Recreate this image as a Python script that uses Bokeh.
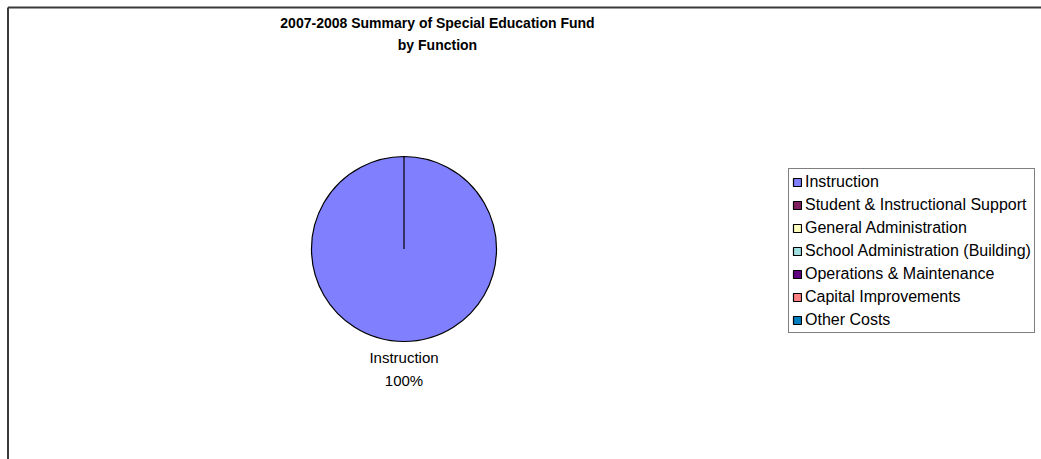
import numpy as np
from bokeh.plotting import figure
from bokeh.models import Range1d, Label, Legend, LegendItem, ColumnDataSource
from bokeh.embed import file_html
from bokeh.resources import INLINE

# Spending by function, percent of the fund
categories = [
    "Instruction",
    "Student & Instructional Support",
    "General Administration",
    "School Administration (Building)",
    "Operations & Maintenance",
    "Capital Improvements",
    "Other Costs",
]
shares = [100, 0, 0, 0, 0, 0, 0]
colors = ["#8080FF", "#802060", "#FFFFC0", "#A0E0E0", "#600080", "#FF8080", "#0080C0"]

title_lines = ["2007-2008 Summary of Special Education Fund", "by Function"]

W, H = 1041, 459
FONT = "Liberation Sans"
PIE_X, PIE_Y, PIE_R = 403.5, H - 248.5, 92.5

# slice angles: start at 12 o'clock, run clockwise
vals = np.array(shares, dtype=float)
frac = vals / vals.sum()
cum = np.concatenate([[0.0], np.cumsum(frac)])
start = np.pi / 2 - 2 * np.pi * cum[:-1]
sweep = np.minimum(2 * np.pi * frac, 2 * np.pi - 1e-6)  # a closed arc of exactly 2*pi renders empty in SVG
end = start - sweep
mid = start - 2 * np.pi * frac / 2
# empty slices get no area at all
radius = np.where(vals > 0, PIE_R, 0.0)

src = ColumnDataSource(dict(cat=categories, share=shares, color=colors,
                            start=start, end=end, r=radius))

p = figure(width=W, height=H, output_backend="svg", toolbar_location=None,
           x_range=Range1d(0, W), y_range=Range1d(0, H),
           min_border=0, outline_line_color=None)
p.axis.visible = False
p.grid.visible = False
p.background_fill_color = "white"
p.border_fill_color = "white"

# chart-area frame: left and top edges (right and bottom lie past the canvas)
FRAME_L, FRAME_T = 7.5, H - 7
p.segment(x0=[FRAME_L, FRAME_L], y0=[-10, FRAME_T], x1=[FRAME_L, W + 10], y1=[FRAME_T, FRAME_T],
          line_color="#3a3a3a", line_width=2)

pie = p.wedge(x=PIE_X, y=PIE_Y, radius="r", start_angle="start", end_angle="end",
              direction="clock", fill_color="color", line_color="black", line_width=1.2,
              source=src)

# data labels for the non-empty slices
for i, cat in enumerate(categories):
    if shares[i] <= 0:
        continue
    lx = PIE_X + (PIE_R + 7) * np.cos(mid[i])
    ly = PIE_Y + (PIE_R + 7) * np.sin(mid[i])
    pct = f"{round(frac[i] * 100):d}%"
    p.add_layout(Label(x=lx, y=ly, text=f"{cat}\n{pct}", text_align="center",
                       text_baseline="top", text_font=FONT, text_font_size="15px",
                       text_color="black", text_line_height=1.4))

# two-line title
p.add_layout(Label(x=437, y=H - 33.5, text="\n".join(title_lines), text_align="center",
                   text_baseline="middle", text_font=FONT, text_font_size="14px",
                   text_font_style="bold", text_color="black", text_line_height=1.42))

items = [LegendItem(label=c, renderers=[pie], index=i) for i, c in enumerate(categories)]
legend = Legend(items=items, location=(788, H - 333), orientation="vertical",
                label_text_font=FONT, label_text_font_size="16px", label_text_color="black",
                glyph_width=10, glyph_height=10, label_height=19, spacing=4,
                label_standoff=3, padding=3, margin=0,
                border_line_color="black", border_line_width=1,
                background_fill_color="white", background_fill_alpha=1.0)
p.add_layout(legend, "center")

open("out.html", "w").write(file_html(p, INLINE))
